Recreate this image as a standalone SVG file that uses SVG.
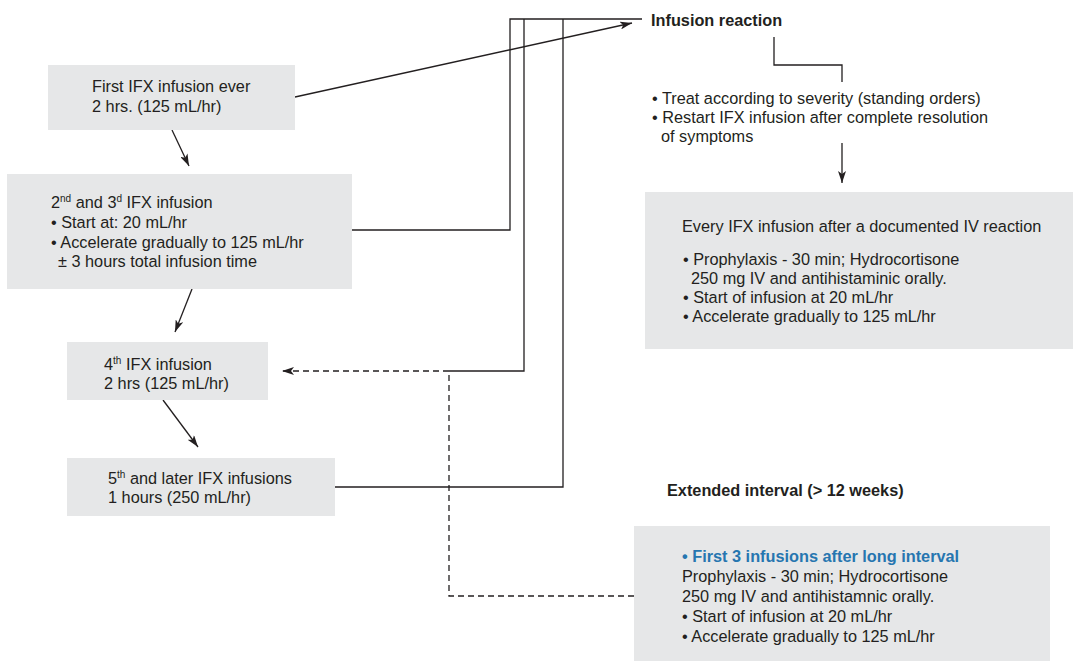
<svg xmlns="http://www.w3.org/2000/svg" width="1073" height="661" viewBox="0 0 1073 661">
<style>
.box{fill:#e6e7e8;stroke:none}
text{font-family:"Liberation Sans",Arial,sans-serif;font-size:16.3px;fill:#231f20}
.b{font-weight:bold}
.blue{fill:#2676b0;font-weight:bold}
.sup{font-size:10px}
.ln{fill:none;stroke:#231f20;stroke-width:1.3}
.dash{fill:none;stroke:#231f20;stroke-width:1.3;stroke-dasharray:6,4}
</style>
<defs>
<marker id="ah" viewBox="0 0 12 8" refX="12" refY="4" markerWidth="12" markerHeight="8" markerUnits="userSpaceOnUse" orient="auto">
<path d="M0,0 L12,4 L0,8 L3,4 z" fill="#231f20"/>
</marker>
</defs>
<rect width="1073" height="661" fill="#ffffff"/>

<g id="connectors">
<line class="ln" x1="295" y1="97" x2="632" y2="23" marker-end="url(#ah)"/>
<line class="ln" x1="172" y1="130" x2="189" y2="166" marker-end="url(#ah)"/>
<line class="ln" x1="192" y1="289" x2="175" y2="332" marker-end="url(#ah)"/>
<line class="ln" x1="163" y1="400" x2="198" y2="447" marker-end="url(#ah)"/>
<polyline class="ln" points="352,230 510,230 510,19 642,19"/>
<polyline class="ln" points="449,371 524,371 524,19"/>
<polyline class="ln" points="335,487 563,487 563,19"/>
<polyline class="dash" points="634,596 449,596 449,371 282,371" marker-end="url(#ah)"/>
<polyline class="ln" points="774,37 774,65 842,65 842,82"/>
<line class="ln" x1="842" y1="143" x2="842" y2="183" marker-end="url(#ah)"/>
</g>

<g id="first-infusion">
<rect class="box" x="48" y="65" width="247" height="65"/>
<text x="92" y="92">First IFX infusion ever</text>
<text x="92" y="112">2 hrs. (125 mL/hr)</text>
</g>

<g id="second-third">
<rect class="box" x="7" y="174" width="345" height="115"/>
<text x="51" y="208">2<tspan class="sup" dy="-6">nd</tspan><tspan dy="6"> and 3</tspan><tspan class="sup" dy="-6">d</tspan><tspan dy="6"> IFX infusion</tspan></text>
<text x="51" y="228">• Start at: 20 mL/hr</text>
<text x="51" y="248">• Accelerate gradually to 125 mL/hr</text>
<text x="58" y="267">± 3 hours total infusion time</text>
</g>

<g id="fourth">
<rect class="box" x="67" y="342" width="201" height="58"/>
<text x="104" y="370">4<tspan class="sup" dy="-6">th</tspan><tspan dy="6"> IFX infusion</tspan></text>
<text x="104" y="389">2 hrs (125 mL/hr)</text>
</g>

<g id="fifth">
<rect class="box" x="67" y="458" width="268" height="58"/>
<text x="108" y="484">5<tspan class="sup" dy="-6">th</tspan><tspan dy="6"> and later IFX infusions</tspan></text>
<text x="108" y="503">1 hours (250 mL/hr)</text>
</g>

<g id="infusion-reaction">
<text class="b" x="651" y="26">Infusion reaction</text>
</g>

<g id="treat">
<text x="652" y="104">• Treat according to severity (standing orders)</text>
<text x="652" y="123">• Restart IFX infusion after complete resolution</text>
<text x="661" y="142">of symptoms</text>
</g>

<g id="after-reaction">
<rect class="box" x="645" y="192" width="428" height="157"/>
<text x="682" y="232">Every IFX infusion after a documented IV reaction</text>
<text x="683" y="265">• Prophylaxis - 30 min; Hydrocortisone</text>
<text x="691" y="284">250 mg IV and antihistaminic orally.</text>
<text x="683" y="303">• Start of infusion at 20 mL/hr</text>
<text x="683" y="322">• Accelerate gradually to 125 mL/hr</text>
</g>

<g id="extended-label">
<text class="b" x="667" y="496">Extended interval (&gt; 12 weeks)</text>
</g>

<g id="extended">
<rect class="box" x="634" y="526" width="416" height="135"/>
<text class="blue" x="682" y="562">• First 3 infusions after long interval</text>
<text x="682" y="582">Prophylaxis - 30 min; Hydrocortisone</text>
<text x="682" y="602">250 mg IV and antihistamnic orally.</text>
<text x="682" y="622">• Start of infusion at 20 mL/hr</text>
<text x="682" y="642">• Accelerate gradually to 125 mL/hr</text>
</g>
</svg>
